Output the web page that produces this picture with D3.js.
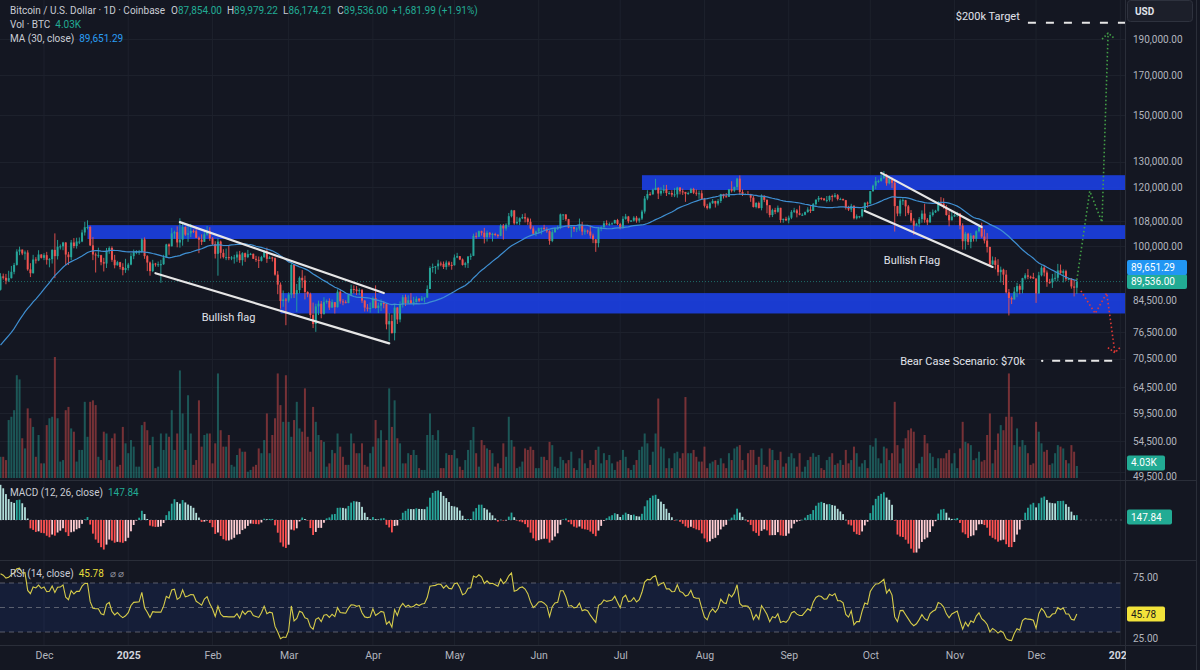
<!DOCTYPE html>
<html><head><meta charset="utf-8">
<script src="https://cdn.jsdelivr.net/npm/d3@7"></script>
<style>
html,body{margin:0;padding:0;background:#141722;}
svg{display:block;font-family:Roboto,"Noto Sans",sans-serif;}
</style></head><body>
<svg id="c" width="1200" height="670"></svg>
<script>
// ---------------- DATA (prices in thousands of USD, volume in thousands of BTC) ----------------
const startDate = "2024-11-15";
// closes before the visible window (Sep 1 – Nov 14, 2024), used only for MA / MACD / RSI warm-up
const warmupCloses = [57.3,59.1,57.5,58.0,56.2,53.9,54.2,54.9,57.0,57.6,57.3,58.1,60.5,60.0,59.2,58.2,60.3,61.7,62.9,63.2,63.3,63.6,63.3,64.3,63.1,65.2,65.8,65.9,65.6,63.3,
60.8,60.6,60.8,62.1,62.1,62.8,62.2,62.1,60.6,60.3,62.4,63.2,62.9,66.1,67.0,67.6,67.4,68.4,68.4,69.0,67.4,67.4,66.7,68.2,66.6,67.0,67.9,69.9,72.7,72.3,70.2,
69.5,69.3,68.7,67.8,69.4,75.6,75.9,76.5,76.7,80.4,88.7,88.0,90.4,87.3];
const closes = [
91.0,90.6,89.8,90.5,92.3,94.3,98.3,98.9,97.7,98.0,93.0,91.9,95.9,95.6,97.4,96.4,
97.2,95.8,96.0,98.8,96.9,99.8,99.9,101.1,97.4,96.6,101.1,100.0,101.4,101.4,104.3,106.0,106.1,100.2,97.4,97.2,97.2,95.1,94.7,98.6,99.4,95.8,94.2,95.1,93.7,92.8,93.4,
94.4,96.9,98.1,98.2,98.3,102.1,96.9,95.0,92.5,94.7,94.5,94.5,94.5,96.5,100.5,99.9,104.0,104.4,101.1,102.0,106.1,103.6,104.0,104.8,104.7,102.6,102.0,101.3,103.7,104.7,102.4,
100.6,97.6,101.4,97.9,96.6,96.6,96.5,96.5,96.5,97.4,95.7,97.8,96.6,97.5,97.6,96.1,95.8,95.5,96.6,98.3,96.1,96.5,96.3,91.5,88.7,84.3,84.7,84.4,
86.0,94.3,86.1,87.2,90.6,89.9,86.7,86.1,80.7,78.5,82.9,83.6,81.0,84.0,84.3,82.6,84.0,82.7,86.8,84.2,84.0,83.8,86.0,87.5,87.4,86.9,87.2,84.4,82.6,82.3,82.5,
85.1,82.5,83.1,83.8,83.5,78.4,79.2,76.3,82.6,79.6,83.4,85.3,83.7,84.5,83.6,84.0,84.9,84.4,85.0,85.2,87.5,93.4,93.7,93.9,94.7,94.6,93.7,95.0,94.3,94.2,
96.5,96.9,95.9,94.3,94.8,96.8,97.0,103.2,102.9,104.7,104.2,102.8,104.2,103.6,103.8,103.5,103.2,106.5,105.6,106.8,109.7,111.7,107.3,107.8,109.0,109.4,108.9,107.8,105.6,103.9,104.6,
105.7,105.8,105.4,104.7,101.6,104.4,105.6,105.8,110.3,110.3,108.7,105.9,106.1,105.4,105.6,106.8,104.6,104.9,104.6,103.3,102.1,100.9,105.5,106.0,107.3,106.9,107.1,107.3,108.4,107.1,
105.7,108.8,109.6,108.0,108.2,109.2,108.2,108.9,111.3,115.9,117.5,117.4,119.1,119.8,117.7,118.7,119.3,117.9,117.9,117.3,117.4,119.9,118.5,118.3,117.6,117.9,119.4,118.0,117.8,117.8,115.7,
113.3,112.5,114.2,115.0,114.1,115.0,117.5,116.7,116.5,119.3,118.7,120.1,123.3,118.3,117.4,117.5,117.4,116.2,112.9,114.3,112.5,116.9,115.4,113.5,110.1,111.8,111.2,112.6,108.4,108.8,108.3,
109.2,111.2,111.7,110.7,110.2,110.2,111.1,112.0,111.5,113.9,115.5,116.1,115.9,115.3,115.4,116.8,116.5,117.1,115.7,115.7,115.3,112.7,112.0,113.3,109.0,109.7,109.7,112.1,114.4,114.1,
118.6,120.6,122.3,122.4,123.5,124.8,121.5,123.3,121.7,113.2,110.6,115.2,115.3,113.1,110.8,108.2,106.5,107.2,108.7,110.6,108.5,107.6,110.1,111.0,111.6,114.6,114.1,112.9,110.1,108.3,109.6,
110.1,110.6,106.5,101.5,103.9,101.3,103.3,102.3,104.7,106.0,103.0,101.7,99.7,94.4,95.6,94.3,92.2,92.9,91.5,86.6,85.1,84.7,86.8,88.3,87.3,90.5,91.3,90.9,90.8,90.4,
86.3,91.3,93.5,92.1,89.4,89.3,90.4,90.6,92.7,92.0,92.5,90.3,90.3,88.2,87.854,89.536];
const highs = [
91.9,91.8,91.7,92.6,94.0,94.9,99.0,99.8,98.8,98.6,98.7,94.8,97.3,96.6,98.7,97.5,
97.8,98.2,96.3,99.0,104.0,101.9,100.5,101.3,101.2,98.2,101.9,102.5,102.6,102.7,105.2,107.8,108.3,106.5,102.8,98.0,99.5,97.3,96.4,99.4,99.9,99.9,97.3,95.5,95.2,94.8,96.1,
94.9,97.8,98.9,98.7,98.8,102.5,102.7,97.2,95.3,95.8,94.9,95.3,95.8,97.3,100.7,100.8,105.8,104.9,106.3,109.0,107.2,106.3,106.8,107.1,105.3,105.4,103.0,103.7,104.8,106.4,106.0,
102.8,101.5,102.5,101.7,99.0,99.2,100.1,96.9,97.3,98.3,98.5,98.1,98.0,98.8,97.9,97.7,97.0,96.8,97.0,98.7,99.5,96.9,96.7,96.5,92.5,89.3,87.1,85.1,
86.6,95.0,94.4,88.9,91.0,92.8,91.2,86.9,86.5,83.9,83.6,84.4,84.3,85.3,84.7,85.0,84.7,83.9,87.4,87.4,84.8,84.5,86.1,88.7,88.5,88.3,87.7,87.5,84.6,83.5,83.9,
85.5,88.5,83.9,84.7,84.2,83.7,81.2,80.8,83.5,82.7,84.2,85.9,86.0,85.8,86.4,85.4,85.5,85.1,85.6,85.3,88.5,93.9,94.7,94.0,95.8,95.3,95.3,95.6,95.4,95.2,
97.4,97.9,96.9,96.2,95.2,96.9,97.7,103.9,104.3,104.9,104.9,105.8,104.9,104.4,104.2,104.2,103.8,107.0,107.1,107.3,110.8,111.9,111.8,109.5,109.3,110.4,110.7,109.3,108.9,106.3,104.9,
105.9,105.9,106.8,106.0,105.0,105.3,105.9,106.5,110.6,110.4,110.4,108.8,106.2,106.2,106.0,108.9,107.8,105.6,105.2,106.5,103.9,102.0,106.1,106.3,108.1,108.3,107.6,107.6,108.5,108.8,
107.5,109.7,110.5,109.8,108.4,109.7,109.8,109.2,111.9,116.8,118.9,118.2,119.5,123.2,120.0,120.0,120.9,120.9,118.6,118.9,119.7,120.2,120.1,119.5,118.3,118.4,119.8,119.8,119.2,118.8,118.9,
116.1,114.0,114.7,115.7,115.1,115.7,117.6,117.6,117.9,119.3,122.3,120.3,123.6,124.5,119.2,117.8,118.6,117.6,116.8,114.6,114.8,117.4,117.0,115.6,113.5,112.3,112.6,113.4,112.6,108.9,109.5,
109.9,111.8,112.6,112.2,113.4,110.7,111.3,112.8,113.2,114.3,115.5,116.8,116.3,116.1,116.8,117.0,117.3,117.9,117.5,116.2,115.9,115.4,113.3,114.0,113.5,110.3,109.8,112.3,114.5,114.8,
118.6,121.0,123.9,122.9,125.8,126.2,125.1,124.2,123.8,122.6,113.3,115.8,116.0,115.4,113.6,111.8,109.0,107.5,109.4,111.7,114.0,109.1,111.2,112.0,111.9,115.0,116.4,116.0,113.6,111.6,111.2,
110.6,111.2,110.8,107.3,104.5,104.2,104.1,103.4,105.0,106.6,107.5,105.3,104.1,99.8,96.8,96.6,96.0,93.8,93.2,92.8,87.5,85.5,88.0,89.2,88.8,90.6,91.9,93.1,91.2,92.0,
90.4,92.3,94.1,94.0,92.7,90.3,91.7,92.3,94.6,94.4,93.0,92.9,90.6,90.5,90.0,89.979];
const lows = [
87.1,90.1,88.8,89.4,90.4,91.6,94.1,97.2,97.2,95.8,92.6,90.8,91.8,94.7,95.4,96.2,
95.7,94.4,93.6,94.7,90.5,95.9,98.9,98.7,94.2,94.3,95.7,99.3,99.2,100.6,101.2,103.3,105.3,100.0,95.7,92.1,96.4,94.2,92.4,93.4,97.6,95.2,93.3,94.1,93.0,91.3,92.0,
92.7,94.2,96.0,97.5,97.3,97.9,96.1,92.5,91.2,92.2,93.8,93.7,89.2,94.3,96.5,97.3,99.9,102.3,99.6,99.5,100.1,103.2,101.3,102.8,104.1,102.5,97.8,100.3,101.3,103.3,101.6,
100.3,96.2,91.2,96.2,96.2,95.7,95.7,95.7,94.7,95.2,94.9,94.1,95.2,96.3,97.2,96.1,95.2,93.4,95.3,96.4,94.9,96.1,95.3,91.2,86.1,82.3,82.8,78.2,
83.9,85.0,85.1,81.5,86.3,87.8,84.7,85.3,80.0,77.5,76.6,80.7,79.9,80.8,83.6,82.0,82.5,81.1,82.6,83.6,83.2,83.7,83.7,85.9,86.3,85.9,85.9,83.8,81.6,81.6,81.3,
82.4,82.3,81.2,81.7,82.4,77.2,74.4,76.2,74.6,78.5,78.9,82.6,83.0,83.7,83.6,83.1,83.9,84.0,84.4,83.9,85.1,87.5,92.1,91.7,92.9,93.9,93.1,92.9,93.8,92.9,
94.1,96.3,95.7,94.1,93.5,93.4,95.8,96.9,102.3,102.8,103.3,100.8,101.4,102.7,101.4,103.1,102.6,103.1,102.0,104.9,106.1,109.3,106.8,106.9,106.7,108.7,107.6,106.8,105.3,103.7,103.1,
103.9,103.7,105.1,104.2,100.4,101.2,104.2,105.1,105.4,108.4,108.1,105.7,102.7,104.5,104.4,104.9,103.4,103.6,103.9,102.4,100.9,98.2,99.6,104.7,105.9,106.6,106.4,106.8,107.2,106.7,
105.3,105.6,108.5,107.3,107.8,107.9,107.5,107.5,108.4,110.6,115.3,116.9,117.3,118.9,115.7,116.9,117.8,116.8,117.3,116.5,116.4,116.2,117.4,117.2,114.7,117.2,117.8,117.5,116.9,115.8,115.6,
112.7,112.0,112.1,114.0,112.7,113.4,114.3,115.9,116.3,116.5,118.1,118.2,118.9,117.2,116.8,117.2,117.2,114.7,112.7,112.4,112.4,111.7,114.6,110.7,109.3,109.4,110.4,110.9,107.5,107.5,108.1,
107.3,108.7,110.8,109.3,110.0,109.8,110.0,110.9,110.8,111.5,113.4,114.7,115.3,115.1,114.5,114.8,114.8,116.2,115.2,115.5,115.1,112.0,111.5,111.1,108.6,108.6,109.0,109.3,111.6,112.6,
113.9,118.3,119.3,121.6,122.1,123.1,120.6,121.1,119.7,104.6,109.7,109.7,113.6,109.7,110.2,107.5,103.5,106.3,106.1,107.5,107.5,106.7,107.5,109.6,110.8,111.3,113.9,112.3,109.9,106.3,108.3,
109.4,109.5,105.3,98.9,98.9,100.3,99.3,101.4,101.4,104.3,102.5,100.8,98.0,94.0,94.6,93.0,91.2,89.3,88.6,86.3,80.6,83.5,84.7,85.3,86.1,86.3,90.1,90.2,90.3,90.3,
83.8,86.2,91.0,91.0,88.1,88.9,87.8,89.6,89.6,91.7,89.3,89.7,89.9,87.6,85.5,86.174];
const volumes = [
7.1,7.1,6,19.4,20.5,22.7,34.4,33,13.3,9.9,23.3,20,17.1,7.1,14.4,4.9,
4.9,17.7,20,20.5,40.5,20,5.5,6,22.7,23.8,16.6,15.5,5.5,9.4,9.4,25.5,13.8,25.5,26,24.4,7.1,6,15.5,14.9,6,13.3,14.9,3.8,4.4,17.1,11.6,
8.3,12.7,10.5,3.8,3.8,17.7,18.8,16,11,13.8,3.3,3.8,14.9,9.4,14.9,13.8,22.7,9.4,14.9,36,21.6,9.4,27.7,14.9,4.4,6,26,10.5,14.4,14.9,14.9,
4.9,11.6,35,16,10.5,10.5,14.4,4.4,3.8,7.7,9.9,8.8,8.8,2.1,2.7,3.8,4.4,9.9,8.3,12.7,21.6,8.3,14.4,20,35,24.4,18.8,34.4,
18.8,13.8,19.4,25.5,16.6,15.5,30,13.8,8.8,23.8,18.8,14.4,12.7,12.1,3.8,4.9,9.4,8.3,14.9,10.5,7.1,4.4,4.4,14.9,11.6,8.3,8.3,11.6,4.4,3.8,8.3,
10.5,19.4,13.3,16,3.8,12.7,30,17.1,26,13.3,11.6,4.9,4.9,8.3,7.7,9.4,7.7,3.3,2.7,2.7,14.4,21.6,14.4,12.7,16,3.3,3.3,8.3,7.7,7.7,
9.4,6.6,3.8,2.7,6,9.4,12.7,17.1,8.3,3.8,12.7,11,9.9,9.4,8.3,3.8,4.9,3.3,11.6,7.1,20.5,12.7,10.5,3.3,3.8,5.5,9.9,9.4,10.5,9.4,3.3,
3.3,7.1,7.1,6,12.1,11,3.8,3.3,7.1,6,4.9,6,8.8,3.3,2.7,6.6,9.4,4.9,3.3,6,4.4,9.4,10.5,4.9,8.3,6,7.7,4.9,2.7,5.5,
6,9.4,7.1,3.3,2.7,4.4,6,9.4,10.5,14.9,11.6,4.4,8.8,14.9,26.6,10.5,9.9,3.3,6.6,3.3,8.3,8.8,6.6,8.3,27.1,8.3,8.3,9.4,7.1,5.5,5.5,
10.5,3.3,4.9,5.5,6,4.4,6.6,4.9,3.3,8.3,6,9.9,10.5,11,6,2.7,8.3,9.4,9.4,4.4,7.1,9.9,4.4,3.8,9.9,9.4,6,6,8.8,3.8,4.9,
7.1,8.3,6.6,3.8,8.3,2.1,3.8,6,7.1,8.3,7.1,7.7,3.3,2.7,6,7.1,8.3,4.4,4.9,6,4.4,9.4,4.9,6,10.5,8.3,3.8,4.9,6,3.3,
11,10.5,13.3,6.6,4.9,10.5,9.9,6,8.3,25.5,11,4.9,9.9,13.3,16,16.6,15.5,3.3,4.9,7.1,14.4,11.6,8.3,7.1,3.3,6.6,6.6,6.6,8.3,9.4,4.9,
8.3,3.3,9.9,18.8,12.1,11.6,11,6,6.6,8.8,5.5,6,14.4,21.6,4.9,9.4,14.9,17.7,16,20.5,35,20.5,11,16.6,10.5,12.7,11,8.3,4.4,4.9,
18.8,15.5,11.6,8.8,9.4,4.4,4.9,8.3,11,10.5,9.9,6,4.9,11,8.8,4.03];

const priceTicks = [190,170,150,130,120,108,100,84.5,76.5,70.5,64.5,59.5,54.5,49.5];
const timeTickDates = ["2024-12-01","2025-01-01","2025-02-01","2025-03-01","2025-04-01","2025-05-01","2025-06-01","2025-07-01","2025-08-01","2025-09-01","2025-10-01","2025-11-01","2025-12-01","2026-01-01"];
const timeTickLabels = ["Dec","2025","Feb","Mar","Apr","May","Jun","Jul","Aug","Sep","Oct","Nov","Dec","2026"];
const rsiTicks = [75,25];
const rsiBands = [70,50,30];

// drawings (date, price in k)
const zones = [
  {start:"2025-07-09", lo:119.0, hi:124.6},
  {start:"2024-12-17", lo:102.2, hi:106.7},
  {start:"2025-02-26", lo:81.1, hi:86.4}
];
const flagLines = [
  [["2025-01-20",107.7],["2025-04-05",86.4]],
  [["2025-01-11",91.9],["2025-04-07",73.9]],
  [["2025-10-05",125.5],["2025-11-11",106.1]],
  [["2025-09-29",111.5],["2025-11-15",93.7]]
];
const flagLabels = [
  {text:"Bullish flag", at:["2025-01-28",80.2]},
  {text:"Bullish Flag", at:["2025-10-06",95.7]}
];
const bullPath = [["2025-12-16",90.0],["2025-12-20T18:00",118.6],["2025-12-25T06:00",107.7],["2025-12-27T12:00",193.7]];
const bearPath = [["2025-12-17T12:00",87.0],["2025-12-22T18:00",81.1],["2025-12-27T00:00",86.4],["2025-12-30T00:00",71.8]];
const targetLevel = {price:200, start:"2025-11-28", label:"$200k Target", labelEnd:"2025-11-25"};
const bearLevel = {price:70, dot:"2025-12-03T06:00", start:"2025-12-06T22:00", end:"2025-12-29T18:00", label:"Bear Case Scenario: $70k", labelStart:"2025-10-12"};

// ---------------- SETUP ----------------
const svg = d3.select("#c");
const BG = "#141722", GRID = "#1d212c", SEP = "#2a2e39", TXT = "#b2b5be";
const UP = "#26a69a", DOWN = "#ef5350";
const plotR = 1125;
const pd = s => new Date(s.length===10 ? s+"T00:00Z" : s+"Z");
const day0 = pd(startDate);
const dates = closes.map((_,i)=> d3.utcDay.offset(day0, i));
const x = d3.scaleUtc().domain([pd("2024-12-01"), pd("2026-01-01")]).range([44, 44 + 396*2.718]);
const y = d3.scaleLog().domain([48.35, 214.7]).range([480, 0]);
const yVol = d3.scaleLinear().domain([0,160]).range([478, 0]);

const opens = closes.map((c,i)=> i===0 ? warmupCloses[warmupCloses.length-1] : closes[i-1]);
const all = warmupCloses.concat(closes);
const W0 = warmupCloses.length;
function ema(arr,n){const k=2/(n+1);const o=[];arr.forEach((v,i)=>o.push(i?v*k+o[i-1]*(1-k):v));return o;}
const e12=ema(all,12), e26=ema(all,26);
const macdLine = all.map((v,i)=>e12[i]-e26[i]);
const sig = ema(macdLine,9);
const histAll = macdLine.map((v,i)=>v-sig[i]);
const hist = histAll.slice(W0);
const histPrev = histAll.slice(W0-1);
function rsiCalc(arr,n){const o=new Array(arr.length).fill(null);let g=0,l=0;
  for(let i=1;i<=n;i++){const d=arr[i]-arr[i-1]; if(d>0)g+=d; else l-=d;} g/=n;l/=n; o[n]=100-100/(1+g/l);
  for(let i=n+1;i<arr.length;i++){const d=arr[i]-arr[i-1]; g=(g*(n-1)+Math.max(d,0))/n; l=(l*(n-1)+Math.max(-d,0))/n; o[i]=l===0?100:100-100/(1+g/l);} return o;}
const rsi = rsiCalc(all,14).slice(W0);
const ma = all.map((v,i)=> i<29?null:d3.mean(all.slice(i-29,i+1))).slice(W0);

const M = d3.max(hist, Math.abs)*1.08;
const yM = d3.scaleLinear().domain([-M, M]).range([558, 482]);
const yR = d3.scaleLinear().domain([30,70]).range([632, 583]);

svg.append("rect").attr("width",1200).attr("height",670).attr("fill",BG);
const defs = svg.append("defs");
defs.append("clipPath").attr("id","cp").append("rect").attr("x",0).attr("y",0).attr("width",plotR).attr("height",480);
defs.append("clipPath").attr("id","cm").append("rect").attr("x",0).attr("y",481).attr("width",plotR).attr("height",78);
defs.append("clipPath").attr("id","cr").append("rect").attr("x",0).attr("y",561).attr("width",plotR).attr("height",84);
defs.append("clipPath").attr("id","cx").append("rect").attr("x",0).attr("y",645).attr("width",plotR+1).attr("height",25);

// grid
const g = svg.append("g");
g.selectAll(".vg").data(timeTickDates).join("line").attr("x1",d=>x(pd(d))).attr("x2",d=>x(pd(d)))
  .attr("y1",0).attr("y2",645).attr("stroke",GRID).attr("stroke-width",1);
g.selectAll(".hg").data(priceTicks).join("line").attr("x1",0).attr("x2",plotR)
  .attr("y1",d=>Math.round(y(d))+0.5).attr("y2",d=>Math.round(y(d))+0.5).attr("stroke",GRID);
// separators
[480.5,560.5,645.5].forEach(v=> svg.append("line").attr("x1",0).attr("x2",1196).attr("y1",v).attr("y2",v).attr("stroke",SEP));
svg.append("line").attr("x1",plotR+0.5).attr("x2",plotR+0.5).attr("y1",0).attr("y2",670).attr("stroke",SEP);
svg.append("line").attr("x1",1196.5).attr("x2",1196.5).attr("y1",0).attr("y2",670).attr("stroke",SEP);

// ---------------- PRICE PANE ----------------
const pp = svg.append("g").attr("clip-path","url(#cp)");
// volume
pp.selectAll(".vol").data(volumes).join("rect")
  .attr("x",(d,i)=>x(dates[i])-1).attr("width",2)
  .attr("y",d=>yVol(d)).attr("height",d=>yVol(0)-yVol(d))
  .attr("fill",(d,i)=> closes[i]>=opens[i]?UP:DOWN).attr("opacity",0.45);
// zones
pp.selectAll(".zone").data(zones).join("rect")
  .attr("x",d=>x(pd(d.start))).attr("width",d=>plotR-x(pd(d.start)))
  .attr("y",d=>y(d.hi)).attr("height",d=>y(d.lo)-y(d.hi))
  .attr("fill","#1b3fe0").attr("opacity",0.92);
// last price line
pp.append("line").attr("x1",0).attr("x2",plotR).attr("y1",y(closes[closes.length-1])).attr("y2",y(closes[closes.length-1]))
  .attr("stroke",UP).attr("stroke-dasharray","1 2").attr("opacity",0.6);
// candles
const cg = pp.selectAll(".cd").data(closes).join("g");
cg.append("line").attr("x1",(d,i)=>x(dates[i])).attr("x2",(d,i)=>x(dates[i]))
  .attr("y1",(d,i)=>y(Math.max(highs[i],opens[i],d))).attr("y2",(d,i)=>y(Math.min(lows[i],opens[i],d)))
  .attr("stroke",(d,i)=> d>=opens[i]?UP:DOWN).attr("stroke-width",0.9);
cg.append("rect").attr("x",(d,i)=>x(dates[i])-1).attr("width",2)
  .attr("y",(d,i)=>y(Math.max(opens[i],d))).attr("height",(d,i)=>Math.max(1,Math.abs(y(opens[i])-y(d))))
  .attr("fill",(d,i)=> d>=opens[i]?UP:DOWN);
// MA
pp.append("path").datum(ma).attr("fill","none").attr("stroke","#3f8fd2").attr("stroke-width",1.2)
  .attr("d", d3.line().defined(d=>d!=null).x((d,i)=>x(dates[i])).y(d=>y(d)));
// flags
pp.selectAll(".fl").data(flagLines).join("line")
  .attr("x1",d=>x(pd(d[0][0]))).attr("y1",d=>y(d[0][1])).attr("x2",d=>x(pd(d[1][0]))).attr("y2",d=>y(d[1][1]))
  .attr("stroke","#e6e6e6").attr("stroke-width",2.2).attr("stroke-linecap","round");
pp.selectAll(".flt").data(flagLabels).join("text")
  .attr("x",d=>x(pd(d.at[0]))).attr("y",d=>y(d.at[1])).attr("dy","0.35em")
  .attr("fill","#e0e3eb").attr("font-size","11px").text(d=>d.text);
// projections
const pl = d3.line().x(d=>x(pd(d[0]))).y(d=>y(d[1]));
pp.append("path").datum(bullPath).attr("d",pl).attr("fill","none").attr("stroke","#43a047").attr("stroke-width",1.6).attr("stroke-dasharray","1.5 2.5");
pp.append("path").datum(bearPath).attr("d",pl).attr("fill","none").attr("stroke","#e53935").attr("stroke-width",1.6).attr("stroke-dasharray","1.5 2.5");
const bt = bullPath[bullPath.length-1], br = bearPath[bearPath.length-1];
const btx = x(pd(bt[0])), bty = y(bt[1]);
pp.append("path").attr("d",`M${btx-6},${bty+6}L${btx},${bty}L${btx+6},${bty+5}`).attr("fill","none").attr("stroke","#43a047").attr("stroke-width",1.6).attr("stroke-dasharray","1.5 2");
const brx = x(pd(br[0])), bry = y(br[1]);
pp.append("path").attr("d",`M${brx-7},${bry-5}L${brx},${bry}L${brx+6},${bry-6}`).attr("fill","none").attr("stroke","#e53935").attr("stroke-width",1.6).attr("stroke-dasharray","1.5 2");
// target levels
pp.append("line").attr("x1",x(pd(targetLevel.start))).attr("x2",plotR).attr("y1",y(targetLevel.price)).attr("y2",y(targetLevel.price))
  .attr("stroke","#e6e6e6").attr("stroke-width",2).attr("stroke-dasharray","8 10");
pp.append("text").attr("x",x(pd(targetLevel.labelEnd))).attr("y",y(targetLevel.price)-3).attr("text-anchor","end")
  .attr("fill","#e0e3eb").attr("font-size","11px").text(targetLevel.label);
pp.append("line").attr("x1",x(pd(bearLevel.start))).attr("x2",x(pd(bearLevel.end))).attr("y1",y(bearLevel.price)).attr("y2",y(bearLevel.price))
  .attr("stroke","#e6e6e6").attr("stroke-width",2).attr("stroke-dasharray","8 5");
pp.append("circle").attr("cx",x(pd(bearLevel.dot))).attr("cy",y(bearLevel.price)).attr("r",1.2).attr("fill","#e6e6e6");
pp.append("text").attr("x",x(pd(bearLevel.labelStart))).attr("y",y(bearLevel.price)).attr("dy","0.35em")
  .attr("fill","#e0e3eb").attr("font-size","11px").text(bearLevel.label);

// ---------------- MACD ----------------
const mp = svg.append("g").attr("clip-path","url(#cm)");
mp.append("line").attr("x1",0).attr("x2",plotR).attr("y1",yM(0)).attr("y2",yM(0)).attr("stroke","#4a4e5a").attr("stroke-dasharray","2 3");
mp.selectAll(".mh").data(hist).join("rect")
  .attr("x",(d,i)=>x(dates[i])-0.9).attr("width",1.8)
  .attr("y",d=>Math.min(yM(d),yM(0))).attr("height",d=>Math.max(0.5,Math.abs(yM(d)-yM(0))))
  .attr("fill",(d,i)=>{const p=histPrev[i]; return d>=0 ? (d>p?"#26a69a":"#b2dfdb") : (d>p?"#ffcdd2":"#ff5252");});

// ---------------- RSI ----------------
const rp = svg.append("g").attr("clip-path","url(#cr)");
rp.append("rect").attr("x",0).attr("width",x(pd("2026-01-01"))).attr("y",yR(70)).attr("height",yR(30)-yR(70)).attr("fill","#2962ff").attr("opacity",0.1);
rp.selectAll(".rb").data(rsiBands).join("line").attr("x1",0).attr("x2",x(pd("2026-01-01")))
  .attr("y1",d=>yR(d)).attr("y2",d=>yR(d)).attr("stroke","#787b86").attr("stroke-dasharray","5 4").attr("opacity",0.7);
rp.append("path").datum(rsi).attr("fill","none").attr("stroke","#d6cc4a").attr("stroke-width",1.1)
  .attr("d",d3.line().x((d,i)=>x(dates[i])).y(d=>yR(d)));

// ---------------- AXES ----------------
const ax = svg.append("g").attr("transform",`translate(${plotR+7},0)`)
  .call(d3.axisRight(y).tickValues(priceTicks).tickSize(0).tickPadding(1).tickFormat(d=>d3.format(",.2f")(d*1000)));
ax.select(".domain").remove();
ax.selectAll("text").attr("fill",TXT).attr("font-size","10px").attr("font-family","Roboto,'Noto Sans',sans-serif");
// lowest label sits just under the volume badge
ax.selectAll(".tick").filter(d=>d===priceTicks[priceTicks.length-1]).select("text").attr("dy","0.75em");
const axr = svg.append("g").attr("transform",`translate(${plotR+7},0)`)
  .call(d3.axisRight(yR).tickValues(rsiTicks).tickSize(0).tickPadding(1).tickFormat(d3.format(".2f")));
axr.select(".domain").remove();
axr.selectAll("text").attr("fill",TXT).attr("font-size","10px").attr("font-family","Roboto,'Noto Sans',sans-serif");
const axb = svg.append("g").attr("clip-path","url(#cx)").append("g").attr("transform","translate(0,652)")
  .call(d3.axisBottom(x).tickValues(timeTickDates.map(pd)).tickSize(0).tickPadding(0).tickFormat((d,i)=>timeTickLabels[i]));
axb.select(".domain").remove();
axb.selectAll("text").attr("fill",(d,i)=>/^\d/.test(timeTickLabels[i])?"#d1d4dc":TXT)
  .attr("font-weight",(d,i)=>/^\d/.test(timeTickLabels[i])?"bold":"normal")
  .attr("font-size","10.5px").attr("font-family","Roboto,'Noto Sans',sans-serif");

// badges
function badge(yc, txt, fill, tc, w){
  svg.append("rect").attr("x",plotR+2).attr("y",yc-7.5).attr("width",w).attr("height",15).attr("rx",2).attr("fill",fill);
  svg.append("text").attr("x",plotR+6).attr("y",yc).attr("dy","0.35em").attr("fill",tc).attr("font-size","10px").text(txt);
}
const lastY = y(closes[closes.length-1]);
badge(lastY, "89,536.00", "#22ab94", "#ffffff", 60);
badge(lastY-14, "89,651.29", "#2196f3", "#ffffff", 60);
badge(yVol(volumes[volumes.length-1])-3, "4.03K", "#22ab94", "#ffffff", 38);
badge(yM(0)-3, "147.84", "#22ab94", "#ffffff", 45);
badge(yR(rsi[rsi.length-1]), "45.78", "#f2e33a", "#1b1b1b", 38);

// USD box
svg.append("rect").attr("x",plotR+2.5).attr("y",0.5).attr("width",65).attr("height",21).attr("rx",3).attr("fill","#1c1f2a").attr("stroke","#2e323e");
svg.append("text").attr("x",plotR+10).attr("y",11).attr("dy","0.35em").attr("fill","#e0e3eb").attr("font-size","10px").attr("font-weight","bold").text("USD");

// header legends
function legend(yc, parts){
  const t = svg.append("text").attr("x",10).attr("y",yc).attr("dy","0.35em").attr("font-size","10px");
  parts.forEach(p=> t.append("tspan").attr("fill",p[1]).attr("dx",p[2]||0).text(p[0]));
}
const L="#c9ccd4", G="#22ab94";
legend(10, [["Bitcoin / U.S. Dollar · 1D · Coinbase",L],["O",L,6],["87,854.00",G],["H",L,5],["89,979.22",G],["L",L,5],["86,174.21",G],["C",L,5],["89,536.00",G],["+1,681.99 (+1.91%)",G,4]]);
legend(24, [["Vol · BTC",L],["4.03K",G,5]]);
legend(38, [["MA (30, close)",L],["89,651.29","#2a9df4",5]]);
legend(492, [["MACD (12, 26, close)",L],["147.84",G,5]]);
legend(573, [["RSI (14, close)",L],["45.78","#e6dc3c",5],["⌀ ⌀","#9598a1",6]]);
</script>
</body></html>
